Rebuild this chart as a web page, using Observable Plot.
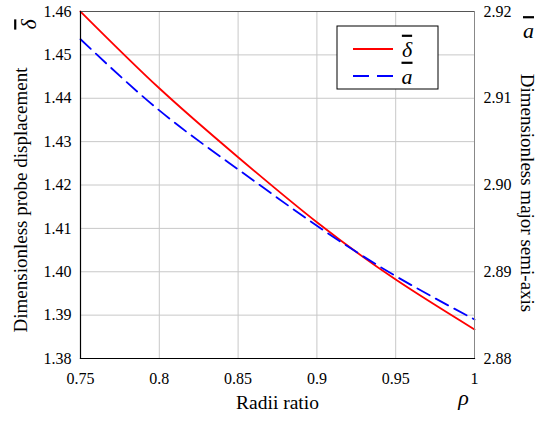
<!DOCTYPE html>
<html><head><meta charset="utf-8">
<script src="https://cdn.jsdelivr.net/npm/d3@7"></script>
<script src="https://cdn.jsdelivr.net/npm/@observablehq/plot@0.6"></script>
<style>
body{margin:0;background:#fff;font-family:"Liberation Serif"}
</style>
</head><body>
<div id="c"></div>
<script>
// data
const rho = [0.75, 0.8, 0.85, 0.9, 0.95, 1];
const delta = [1.46, 1.4423, 1.4264, 1.4114, 1.3982, 1.3867];
const semiAxis = [2.9168, 2.9086, 2.9018, 2.8953, 2.8895, 2.8845];
const xTicks = [0.75, 0.8, 0.85, 0.9, 0.95, 1];
const leftTicks = [1.38, 1.39, 1.40, 1.41, 1.42, 1.43, 1.44, 1.45, 1.46];
const rightTicks = [2.88, 2.89, 2.90, 2.91, 2.92];
const leftDomain = [1.38, 1.46];
const rightDomain = [2.88, 2.92];

const k = (leftDomain[1] - leftDomain[0]) / (rightDomain[1] - rightDomain[0]);
const toLeft = a => leftDomain[0] + (a - rightDomain[0]) * k;
const toRight = v => rightDomain[0] + (v - leftDomain[0]) / k;

const data = rho.map((r, i) => ({rho: r, delta: delta[i], a: semiAxis[i]}));

const p = Plot.plot({
  width: 549, height: 425,
  marginLeft: 80, marginRight: 75, marginTop: 11, marginBottom: 67,
  style: {fontFamily: "inherit", fontSize: "16px"},
  x: {domain: [0.75, 1]},
  y: {domain: leftDomain},
  marks: [
    Plot.gridX(xTicks, {stroke: "#c8c8c8", strokeOpacity: 1, strokeWidth: 1}),
    Plot.gridY(leftTicks, {stroke: "#c8c8c8", strokeOpacity: 1, strokeWidth: 1}),
    Plot.axisX(xTicks, {tickSize: 0, tickPadding: 14, label: null, tickFormat: d => String(+d.toFixed(2))}),
    Plot.axisY(leftTicks, {anchor: "left", tickSize: 0, tickPadding: 9, label: null, tickFormat: d => d.toFixed(2)}),
    Plot.axisY(rightTicks.map(toLeft), {anchor: "right", tickSize: 0, tickPadding: 9, label: null, tickFormat: d => toRight(d).toFixed(2)}),
    Plot.line(data, {x: "rho", y: "delta", stroke: "#ff0000", strokeWidth: 1.8, curve: "natural"}),
    Plot.line(data, {x: "rho", y: d => toLeft(d.a), stroke: "#0000ff", strokeWidth: 1.8, strokeDasharray: "14,7", curve: "natural"}),
    Plot.frame({anchor: "top", stroke: "#555"}),
    Plot.frame({anchor: "right", stroke: "#888"}),
    Plot.frame({anchor: "left", stroke: "#000", strokeWidth: 1.2}),
    Plot.frame({anchor: "bottom", stroke: "#000", strokeWidth: 1.2}),
    Plot.text(["Radii ratio"], {frameAnchor: "bottom", dy: 50, fontSize: 19.5, textAnchor: "middle"}),
    Plot.text(["ρ"], {frameAnchor: "bottom-right", dx: -11, dy: 46, fontSize: 22, fontStyle: "italic", textAnchor: "middle"}),
    Plot.text(["Dimensionless probe displacement"], {frameAnchor: "left", dx: -60, dy: 15, rotate: -90, fontSize: 19, textAnchor: "middle"}),
    Plot.text(["δ"], {frameAnchor: "top-left", dx: -60, dy: 13, rotate: -90, fontSize: 22, fontStyle: "italic", textAnchor: "middle"}),
    Plot.text(["Dimensionless major semi-axis"], {frameAnchor: "right", dx: 53, dy: 8, rotate: 90, fontSize: 19, textAnchor: "middle"}),
    Plot.text(["a"], {frameAnchor: "top-right", dx: 54, dy: 11, fontSize: 22, fontStyle: "italic", textAnchor: "middle"})
  ]
});
document.getElementById("c").appendChild(p);

const svg = d3.select(p);
// overline the symbol labels
svg.selectAll("text").filter(function () { return this.textContent === "δ" || this.textContent === "a"; })
  .style("text-decoration", "overline");

// legend box inside the plot
const xs = p.scale("x"), ys = p.scale("y");
const fx1 = xs.apply(1), fy0 = ys.apply(1.46);
const lx = fx1 - 137, ly = fy0 + 15, lw = 101, lh = 63;
const g = svg.append("g");
g.append("rect").attr("x", lx).attr("y", ly).attr("width", lw).attr("height", lh)
  .attr("fill", "#fff").attr("stroke", "#000").attr("stroke-width", 1);
const items = [
  {label: "δ", color: "#ff0000", dash: null},
  {label: "a", color: "#0000ff", dash: "16,8"}
];
items.forEach((it, i) => {
  const yy = ly + 23 + i * 27;
  g.append("line").attr("x1", lx + 16).attr("x2", lx + 56).attr("y1", yy).attr("y2", yy)
    .attr("stroke", it.color).attr("stroke-width", 1.8).attr("stroke-dasharray", it.dash);
  g.append("text").attr("x", lx + 70).attr("y", yy).attr("dy", "0.35em")
    .attr("font-size", 22).attr("font-style", "italic").style("text-decoration", "overline").text(it.label);
});
</script>
</body></html>
